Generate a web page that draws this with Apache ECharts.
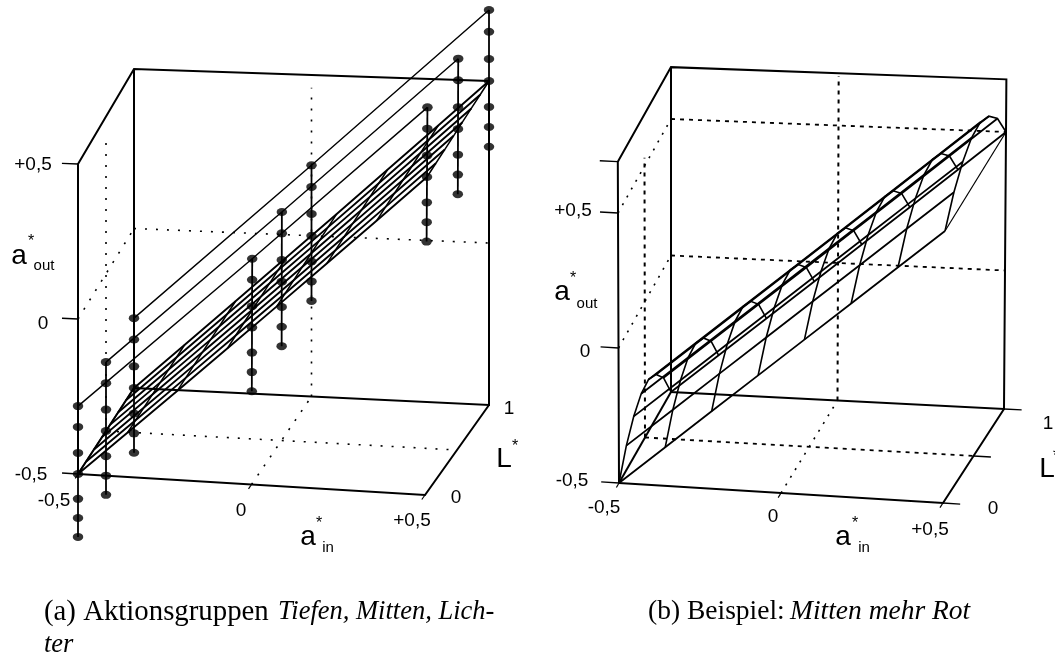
<!DOCTYPE html>
<html><head><meta charset="utf-8">
<style>html,body{margin:0;padding:0;background:#fff}#c{width:1055px;height:654px}</style>
<script src="https://cdn.jsdelivr.net/npm/echarts@6/dist/echarts.min.js"></script>
</head><body><div id="c"></div>
<script>
// ---- data: a*in, L*, a*out values ----
const gridA = [-0.5,-0.357,-0.214,-0.071,0.071,0.214,0.357,0.5];
const gridL = [0,0.143,0.286,0.429,0.571,0.714,0.857,1];
const planeOut = [-0.5,-0.357,-0.214,-0.071,0.071,0.214,0.357,0.5];
const dotA = [-0.5,0,0.5];
const dotL = [0,0.5,1];
const dotsAtMinus = [-0.281,-0.348,-0.432,-0.5,-0.58,-0.642,-0.703];
const dotsAtZero  = [0.219,0.152,0.068,0,-0.08,-0.142,-0.203];
const dotsAtPlus  = [0.719,0.652,0.568,0.5,0.42,0.358,0.297];
const surf0 = [-0.5,-0.41,-0.35,-0.315,-0.31,-0.34,-0.4,-0.5];
const surf1 = [-0.357,-0.267,-0.207,-0.172,-0.167,-0.197,-0.257,-0.357];
const surf2 = [-0.214,-0.124,-0.064,-0.029,-0.024,-0.054,-0.114,-0.214];
const surf3 = [-0.071,0.019,0.079,0.114,0.119,0.089,0.029,-0.071];
const surf4 = [0.071,0.161,0.221,0.256,0.261,0.231,0.171,0.071];
const surf5 = [0.214,0.304,0.364,0.399,0.404,0.374,0.314,0.214];
const surf6 = [0.357,0.447,0.507,0.542,0.547,0.517,0.457,0.357];
const surf7 = [0.5,0.59,0.65,0.685,0.69,0.66,0.6,0.5];
const surfRows = [surf0,surf1,surf2,surf3,surf4,surf5,surf6,surf7];
const tickLabelsOut = ['+0,5','0','-0,5'];
const tickLabelsIn = ['-0,5','0','+0,5'];
const tickLabelsL = ['0','1'];
const captionA1 = '(a) Aktionsgruppen', captionA2 = 'Tiefen, Mitten, Lich-', captionA3 = 'ter';
const captionB1 = '(b) Beispiel:', captionB2 = 'Mitten mehr Rot';

// ---- view of each cube: screen place of corners [a-/a+][L0/L1][out -0.5/+0.5] ----
const viewA = {c:[[[[78,474],[78,164]],[[134,388],[134,69]]],[[[425,495],[427,177]],[[489,405],[489,81]]]]};
const viewB = {c:[[[[619,483],[618,213]],[[671,392],[671,119]]],[[[943,503],[945,231]],[[1004,409],[1006,132]]]]};
function project(v,a,l,o){
  const u=a+0.5,w=l,t=o+0.5,p=[0,0];
  for(let k=0;k<2;k++){
    const f=(i,j)=>v.c[i][j][0][k]*(1-t)+v.c[i][j][1][k]*t;
    p[k]=(f(0,0)*(1-w)+f(0,1)*w)*(1-u)+(f(1,0)*(1-w)+f(1,1)*w)*u;
  }
  return p;
}
const series=[];
function line(v,pts,width,dash){
  series.push({type:'line',xAxisIndex:0,yAxisIndex:0,showSymbol:false,silent:true,animation:false,z:2,
    data:pts.map(q=>project(v,q[0],q[1],q[2])),
    lineStyle:{color:'#000',width:width,type:dash||'solid',cap:'butt',join:'miter'}});
}
const D=[2,9], DB=[4,5], DS=[2,7];
function box(v,top,bw){
  line(v,[[-.5,0,-.5],[-.5,0,top],[-.5,1,top],[.5,1,top],[.5,1,-.5],[-.5,1,-.5],[-.5,1,top]],bw);
  line(v,[[-.5,0,-.5],[.5,0,-.5],[.5,1,-.5]],bw);
  line(v,[[-.5,0,-.5],[-.5,1,-.5]],bw);
}
// panel (a)
box(viewA,0.5,2);
line(viewA,[[0,1,-.5],[0,1,.46]],1.6,D);
line(viewA,[[-.5,.5,-.5],[-.5,.5,.42]],1.6,D);
line(viewA,[[-.5,1,0],[.5,1,0]],1.6,D);
line(viewA,[[-.5,0,0],[-.5,1,0]],1.6,D);
line(viewA,[[0,0,-.5],[0,1,-.5]],1.6,D);
line(viewA,[[-.5,.5,-.5],[.5,.5,-.5]],1.6,D);
[.5,0,-.5].forEach(o=>line(viewA,[[-.546,0,o],[-.5,0,o]],1.4));
[-.5,0,.5].forEach(a=>line(viewA,[[a,-.05,-.5],[a,0,-.5]],1.2));
gridL.forEach(l=>line(viewA,gridA.map((a,i)=>[a,l,planeOut[i]]),1.9));
gridA.forEach((a,i)=>line(viewA,gridL.map(l=>[a,l,planeOut[i]]),1.5));
const dotCols=[dotsAtMinus,dotsAtZero,dotsAtPlus];
dotL.forEach(l=>line(viewA,dotA.map((a,i)=>[a,l,dotCols[i][0]]),1.4));
const dotPts=[];
dotA.forEach((a,i)=>dotL.forEach(l=>{
  const col=dotCols[i];
  line(viewA,[[a,l,col[0]],[a,l,col[6]]],1.8);
  col.forEach(o=>dotPts.push(project(viewA,a,l,o)));
}));
series.push({type:'scatter',data:dotPts,symbol:'circle',symbolSize:[10.5,8],silent:true,animation:false,z:5,itemStyle:{color:'#000'}});
// panel (b)
box(viewB,0.69,2);
line(viewB,[[0,1,-.5],[0,1,.68]],2,DB);
line(viewB,[[-.5,.5,-.5],[-.5,.5,.53]],2,DB);
line(viewB,[[-.5,1,.5],[.5,1,.5]],1.8,DB);
line(viewB,[[-.5,1,0],[.5,1,0]],1.8,DB);
line(viewB,[[-.5,.5,-.5],[.5,.5,-.5]],1.8,DB);
line(viewB,[[-.5,0,.5],[-.5,1,.5]],1.6,DS);
line(viewB,[[-.5,0,0],[-.5,1,0]],1.6,DS);
line(viewB,[[0,0,-.5],[0,1,-.5]],1.6,DS);
[.69,.5,0,-.5].forEach(o=>line(viewB,[[-.555,0,o],[-.5,0,o]],1.3));
[0,.5,1].forEach(l=>line(viewB,[[.5,l,-.5],[.553,l,-.5]],1.3));
[-.5,0,.5].forEach(a=>line(viewB,[[a,-.05,-.5],[a,0,-.5]],1.2));
gridL.forEach((l,j)=>line(viewB,gridA.map((a,i)=>[a,l,surfRows[i][j]]),1.8));
gridA.forEach((a,i)=>line(viewB,gridL.map((l,j)=>[a,l,surfRows[i][j]]),1.6));
line(viewB,[[.5,0,.5],[.5,1,.5]],1.2);

// ---- texts ----
const SANS='"Liberation Sans",Arial,sans-serif', SERIF='"Liberation Serif",serif';
const T=(text,x,y,size)=>({type:'text',x:x,y:y,silent:true,style:{text:text,x:0,y:0,fill:'#000',font:size+'px '+SANS,textAlign:'center',textVerticalAlign:'middle'}});
const C=(text,x,y,font)=>({type:'text',x:x,y:y,silent:true,style:{text:text,x:0,y:0,fill:'#000',font:font,textAlign:'left',textVerticalAlign:'middle'}});
const TK=19, BIG=28, SUB=15, ST=16;
const graphics=[
 T(tickLabelsOut[0],33,165,TK),T(tickLabelsOut[1],43,324,TK),T(tickLabelsOut[2],31,475,TK),
 T(tickLabelsIn[0],54,501,TK),T(tickLabelsIn[1],241,511,TK),T(tickLabelsIn[2],412,521,TK),
 T(tickLabelsL[0],456,498,TK),T(tickLabelsL[1],509,409,TK),
 T('a',19,256,BIG),T('*',31,242,ST),T('out',44,266,SUB),
 T('a',308,537,BIG),T('*',319,524,ST),T('in',328,548,SUB),
 T('L',504,459,BIG),T('*',515,447,ST),
 T(tickLabelsOut[0],573,211,TK),T(tickLabelsOut[1],585,352,TK),T(tickLabelsOut[2],572,481,TK),
 T(tickLabelsIn[0],604,508,TK),T(tickLabelsIn[1],773,517,TK),T(tickLabelsIn[2],930,530,TK),
 T(tickLabelsL[0],993,509,TK),T(tickLabelsL[1],1048,424,TK),
 T('a',562,292,BIG),T('*',573,279,ST),T('out',587,304,SUB),
 T('a',843,537,BIG),T('*',855,524,ST),T('in',864,548,SUB),
 T('L',1047,469,BIG),T('*',1056,457,ST),
 C(captionA1,44,612,'28.8px '+SERIF),
 C(captionA2,278,612,'italic 26.5px '+SERIF),
 C(captionA3,44,645,'italic 26.5px '+SERIF),
 C(captionB1,648,612,'27.5px '+SERIF),
 C(captionB2,790,612,'italic 27.5px '+SERIF)
];
const chart=echarts.init(document.getElementById('c'),null,{renderer:'canvas'});
chart.setOption({
 backgroundColor:'#fff',animation:false,
 grid:{left:0,right:0,top:0,bottom:0},
 xAxis:{type:'value',min:0,max:1055,show:false},
 yAxis:{type:'value',min:0,max:654,inverse:true,show:false},
 series:series,graphic:graphics
});
</script></body></html>
